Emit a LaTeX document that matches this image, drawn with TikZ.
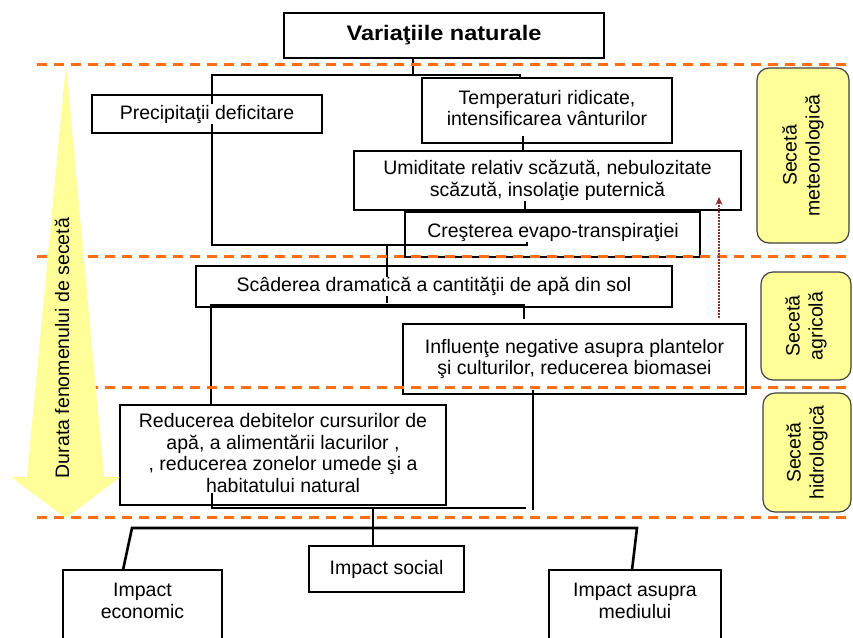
\documentclass[tikz,border=0pt]{standalone}
\usepackage{fontspec}
\setmainfont{Liberation Sans}
\usetikzlibrary{arrows.meta}
\definecolor{sepor}{RGB}{255,110,20}
\definecolor{lyel}{RGB}{255,255,153}
\definecolor{dred}{RGB}{150,45,45}
\newcommand\dfont{\fontsize{19.5}{21.5}\selectfont}
\begin{document}
\begin{tikzpicture}[x=1pt,y=-1pt,
  box/.style={draw=black,line width=1.3pt,fill=white,inner sep=0pt},
  txt/.style={font=\dfont,align=center,fill=white,inner sep=0.6pt},
  conn/.style={line width=2.6pt,line join=miter},
  sepline/.style={draw=sepor,line width=3pt,dash pattern=on 10pt off 7pt},
  side/.style={draw=black!75,fill=lyel,line width=1.2pt,rounded corners=12pt,inner sep=0pt},
  sidetxt/.style={font=\fontsize{19.5}{23}\selectfont,align=center,rotate=90,inner sep=0pt}]
\useasboundingbox (0,0) rectangle (853,637);

% boxes
\node[box,minimum width=320pt,minimum height=45pt] (title) at (444,35.5) {};
\node[box,minimum width=230pt,minimum height=38pt] (precip) at (207,114) {};
\node[box,minimum width=250pt,minimum height=65pt] (temp) at (547,110.5) {};
\node[box,minimum width=387pt,minimum height=59pt] (umid) at (547.5,180.5) {};
\node[box,minimum width=295pt,minimum height=45pt] (evapo) at (552.5,234.5) {};
\node[box,minimum width=476pt,minimum height=41pt] (scad) at (434,286.5) {};
\node[box,minimum width=343pt,minimum height=70pt] (infl) at (574.5,359) {};
\node[box,minimum width=326pt,minimum height=100pt] (reduc) at (283,455) {};
\node[box,minimum width=159pt,minimum height=75pt] (impEc) at (142.5,607.5) {};
\node[box,minimum width=155pt,minimum height=46pt] (impSoc) at (386.5,569) {};
\node[box,minimum width=172pt,minimum height=75pt] (impMed) at (635,607.5) {};

% connectors
\coordinate (jt) at (413,75);
\coordinate (jl) at (212,75);
\coordinate (jr) at (520,75);
\coordinate (jb) at (212,245);
\coordinate (je) at (527,245);
\draw[conn] (title.south -| jt) -- (jt);
\draw[conn] (jr |- temp.north) -- (jr) -- (jl) -- (jb) -- (je) -- (527,240);
\draw[conn] (523,136) -- (umid.north -| 523,0);
\draw[conn] (525,197) -- (evapo.north -| 525,0);
\coordinate (js) at (387,245);
\draw[conn] (js) -- (387,303);
\coordinate (jsl) at (211,305);
\coordinate (jsr) at (524,305);
\draw[conn] (reduc.north -| jsl) -- (jsl) -- (jsr) -- (524,319);
\coordinate (jrl) at (212,508);
\coordinate (jrr) at (526,508);
\draw[conn] (212,490) -- (jrl) -- (jrr);
\draw[conn] (533,390) -- (533,510);
\coordinate (jm) at (373,508);
\draw[conn] (jm) -- (impSoc.north -| jm);
\coordinate (bl) at (132,528);
\coordinate (br) at (637,528);
\draw[conn] (123,570) -- (bl) -- (br) -- (632,570);

% texts
\node[txt,font=\fontsize{21}{24}\selectfont\bfseries] (titleT) at (title) {\scalebox{1.12}[1]{Variaţiile naturale}};
\node[txt] (precipT) at (precip) {Precipitaţii deficitare};
\node[txt] (tempT) at (547,108) {Temperaturi ridicate,\\intensificarea vânturilor};
\node[txt] (umidT) at (umid) {Umiditate relativ scăzută, nebulozitate\\scăzută, insolaţie puternică};
\node[txt] (evapoT) at (553,232) {Creşterea evapo-transpiraţiei};
\node[txt] (scadT) at (scad) {Scâderea dramatică a cantităţii de apă din sol};
\node[txt] (inflT) at (infl) {Influenţe negative asupra plantelor\\şi culturilor, reducerea biomasei};
\node[txt] (reducT) at (283,453) {Reducerea debitelor cursurilor de\\apă, a alimentării lacurilor ,\\, reducerea zonelor umede şi a\\habitatului natural};
\node[txt] (impEcT) at (142.5,601) {Impact\\economic};
\node[txt] (impSocT) at (impSoc) {Impact social};
\node[txt] (impMedT) at (635,601) {Impact asupra\\mediului};

% separator lines
\foreach \yy in {64,256,387,517} \draw[sepline] (37,\yy) -- (853,\yy);

% dotted arrow
\coordinate (dA) at (719,318);
\coordinate (dB) at (719,197);
\draw[dred,line width=1.8pt,dash pattern=on 1.6pt off 1.4pt,-{Stealth[length=8pt,width=7pt]}] (dA) -- (dB);

% big yellow arrow
\fill[lyel] (66,64) -- (104,477) -- (120,477) -- (66,518) -- (11,477) -- (27,477) -- cycle;
\node[sidetxt] (durT) at (62,348) {Durata fenomenului de secetă};

% side boxes
\node[side,minimum width=92pt,minimum height=175pt] (met) at (803,155.5) {};
\node[side,minimum width=90pt,minimum height=108pt] (agr) at (806,326) {};
\node[side,minimum width=88pt,minimum height=119pt] (hid) at (807,452.5) {};
\node[sidetxt] (metT) at (met) {Secetă\\meteorologică};
\node[sidetxt] (agrT) at (agr) {Secetă\\agricolă};
\node[sidetxt] (hidT) at (hid) {Secetă\\hidrologică};
\end{tikzpicture}
\end{document}
